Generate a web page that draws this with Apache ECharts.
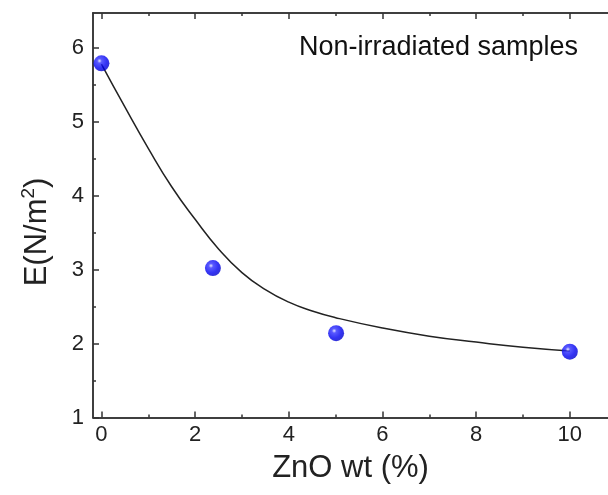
<!DOCTYPE html>
<html>
<head>
<meta charset="utf-8">
<script src="https://cdn.jsdelivr.net/npm/echarts@6/dist/echarts.min.js"></script>
<style>html,body{margin:0;padding:0;background:#fff;}#c{width:608px;height:495px;}</style>
</head>
<body>
<div id="c"></div>
<script>
// Data
var znoWt = [0, 2.38, 5.01, 10];
var modulusE = [5.79, 3.02, 2.14, 1.89];
// Fitted curve, points
var fitX = [0, 0.5, 1, 1.5, 2, 2.5, 3, 3.5, 4, 4.5, 5, 6, 7, 8, 9, 10];
var fitY = [5.78, 5.2, 4.64, 4.12, 3.68, 3.28, 2.96, 2.73, 2.56, 2.44, 2.35, 2.21, 2.1, 2.02, 1.95, 1.9];
var xMajorTicks = [0, 2, 4, 6, 8, 10];
var xMinorTicks = [1, 3, 5, 7, 9];
var yMajorTicks = [1, 2, 3, 4, 5, 6];
var yMinorTicks = [1.5, 2.5, 3.5, 4.5, 5.5];
var xTitle = 'ZnO wt (%)';
var yTitleMain = 'E(N/m';
var yTitleSup = '2';
var annotation = 'Non-irradiated samples';

var FONT = '"Liberation Sans", Arial, sans-serif';
var AX = '#333';
var xMin = -0.18, xMax = 10.815, yMin = 1, yMax = 6.47;

function xAx(pos, ticks, len, labels, extra) {
  var a = {
    type: 'value', position: pos, min: xMin, max: xMax,
    axisLine: {show: true, onZero: false, lineStyle: {color: AX, width: 1.5}},
    axisTick: {show: true, inside: true, length: len, customValues: ticks, lineStyle: {color: AX, width: 1.5}},
    axisLabel: labels ? {show: true, customValues: ticks, fontFamily: FONT, fontSize: 22, color: '#222', margin: 6} : {show: false},
    splitLine: {show: false}
  };
  return Object.assign(a, extra || {});
}
function yAx(pos, ticks, len, labels, extra) {
  var a = {
    type: 'value', position: pos, min: yMin, max: yMax,
    axisLine: {show: true, onZero: false, lineStyle: {color: AX, width: 1.5}},
    axisTick: {show: true, inside: true, length: len, customValues: ticks, lineStyle: {color: AX, width: 1.5}},
    axisLabel: labels ? {show: true, customValues: ticks, fontFamily: FONT, fontSize: 22, color: '#222', margin: 9} : {show: false},
    splitLine: {show: false}
  };
  return Object.assign(a, extra || {});
}

var chart = echarts.init(document.getElementById('c'), null, {renderer: 'canvas'});
chart.setOption({
  animation: false,
  backgroundColor: '#fff',
  grid: {left: 93, right: 0, top: 13, bottom: 77.5, containLabel: false},
  title: {
    text: annotation, left: 294, top: 29,
    textStyle: {fontFamily: FONT, fontSize: 27, fontWeight: 'normal', color: '#111'}
  },
  graphic: [{
    type: 'text', x: 37, y: 232, rotation: Math.PI / 2, z: 10,
    style: {
      text: '{a|' + yTitleMain + '}{s|' + yTitleSup + '}{a|)}',
      align: 'center', verticalAlign: 'middle',
      rich: {
        a: {fontFamily: FONT, fontSize: 31, fill: '#222'},
        s: {fontFamily: FONT, fontSize: 19, fill: '#222', padding: [0, 0, 16, 0]}
      }
    }
  }],
  xAxis: [
    xAx('bottom', xMajorTicks, 6, true, {
      name: xTitle, nameLocation: 'middle', nameGap: 35,
      nameTextStyle: {fontFamily: FONT, fontSize: 31, color: '#222'}
    }),
    xAx('bottom', xMinorTicks, 3, false),
    xAx('top', xMajorTicks, 6, false),
    xAx('top', xMinorTicks, 3, false)
  ],
  yAxis: [
    yAx('left', yMajorTicks, 6, true),
    yAx('left', yMinorTicks, 3, false)
  ],
  series: [
    {
      type: 'line', xAxisIndex: 0, yAxisIndex: 0,
      data: fitX.map(function (x, i) { return [x, fitY[i]]; }),
      smooth: 0.5, showSymbol: false, symbol: 'none',
      lineStyle: {color: '#222', width: 1.5}, z: 2
    },
    {
      type: 'scatter', xAxisIndex: 0, yAxisIndex: 0,
      data: znoWt.map(function (x, i) { return [x, modulusE[i]]; }),
      symbol: 'circle', symbolSize: 16, z: 3,
      itemStyle: {
        color: {
          type: 'radial', x: 0.38, y: 0.35, r: 0.65,
          colorStops: [
            {offset: 0, color: '#e0e0ff'},
            {offset: 0.22, color: '#3030ff'},
            {offset: 0.7, color: '#0000f0'},
            {offset: 1, color: '#0000d0'}
          ]
        }
      }
    }
  ]
});
</script>
</body>
</html>
